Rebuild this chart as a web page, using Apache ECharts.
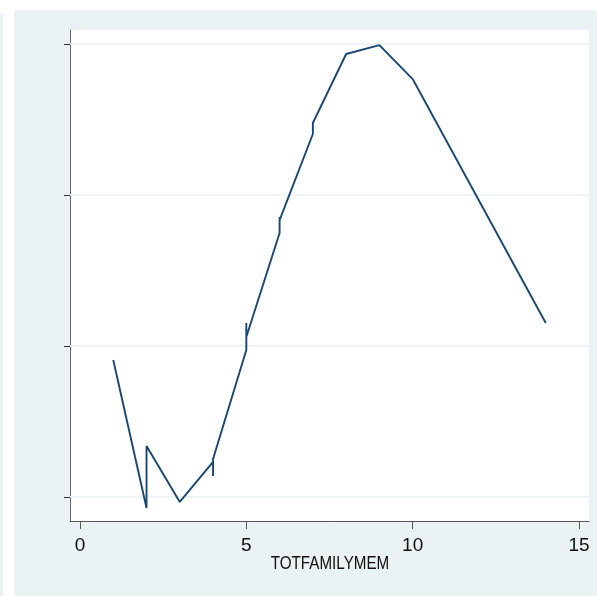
<!DOCTYPE html>
<html>
<head>
<meta charset="utf-8">
<script src="https://cdn.jsdelivr.net/npm/echarts@6/dist/echarts.min.js"></script>
<style>
  html, body { margin: 0; padding: 0; background: #ffffff; }
  #chart { width: 597px; height: 596px; }
</style>
</head>
<body>
<div id="chart"></div>
<script>
// points in drawing order (repeated x = several values at one family size)
const famSize = [1, 2, 2, 3, 4, 4, 4, 5, 5, 5, 6, 6, 6, 7, 7, 8, 9, 10, 14];
const meanVal = [0.907, -0.073, 0.338, -0.033, 0.232, 0.139, 0.252, 0.974, 1.152, 1.06,
    1.748, 1.854, 1.834, 2.404, 2.477, 2.934, 2.993, 2.768, 1.152];
const xTicks = [0, 5, 10, 15];
const yTicks = [0, 1, 2, 3];
const xTitle = 'TOTFAMILYMEM';

const chart = echarts.init(document.getElementById('chart'));
const bg = '#eaf2f3';
const font = "'Liberation Sans', Arial, sans-serif";

chart.setOption({
    animation: false,
    graphic: [
        {type: 'rect', z: -10, shape: {x: 0, y: 13, width: 3, height: 583}, style: {fill: bg}},
        {type: 'rect', z: -10, shape: {x: 14, y: 10, width: 583, height: 586}, style: {fill: bg}},
        // narrow-looking axis title (no condensed font installed)
        {
            type: 'text', z: 10, x: 330, y: 564, scaleX: 0.8, originX: 0, originY: 0,
            style: {
                text: xTitle, fill: '#111', fontSize: 19, fontFamily: font,
                align: 'center', verticalAlign: 'middle'
            }
        }
    ],
    grid: {
        left: 70, top: 30, right: 8, bottom: 75,
        show: true, backgroundColor: '#ffffff', borderWidth: 0
    },
    xAxis: {
        type: 'value',
        min: -0.3, max: 15.3,
        axisLine: {onZero: false, lineStyle: {color: '#555', width: 1}},
        axisTick: {customValues: xTicks, length: 8, lineStyle: {color: '#555'}},
        axisLabel: {customValues: xTicks, margin: 15, color: '#111', fontSize: 19, fontFamily: font},
        splitLine: {show: false}
    },
    yAxis: {
        type: 'value',
        min: -0.159, max: 3.093,
        axisLine: {show: true, onZero: false, lineStyle: {color: '#666', width: 1}},
        axisTick: {show: true, customValues: yTicks, length: 6, lineStyle: {color: '#333'}},
        axisLabel: {show: false},
        splitLine: {show: false}
    },
    series: [
        {
            type: 'line',
            data: [],
            z: 1,
            silent: true,
            markLine: {
                z: 1,
                silent: true,
                symbol: 'none',
                label: {show: false},
                lineStyle: {color: bg, type: 'solid', width: 1.5},
                data: yTicks.map(v => ({yAxis: v}))
            }
        },
        {
            type: 'line',
            z: 6,
            data: famSize.map((x, i) => [x, meanVal[i]]),
            showSymbol: false,
            symbol: 'none',
            lineStyle: {color: '#1a476f', width: 1.9}
        }
    ]
});
</script>
</body>
</html>
